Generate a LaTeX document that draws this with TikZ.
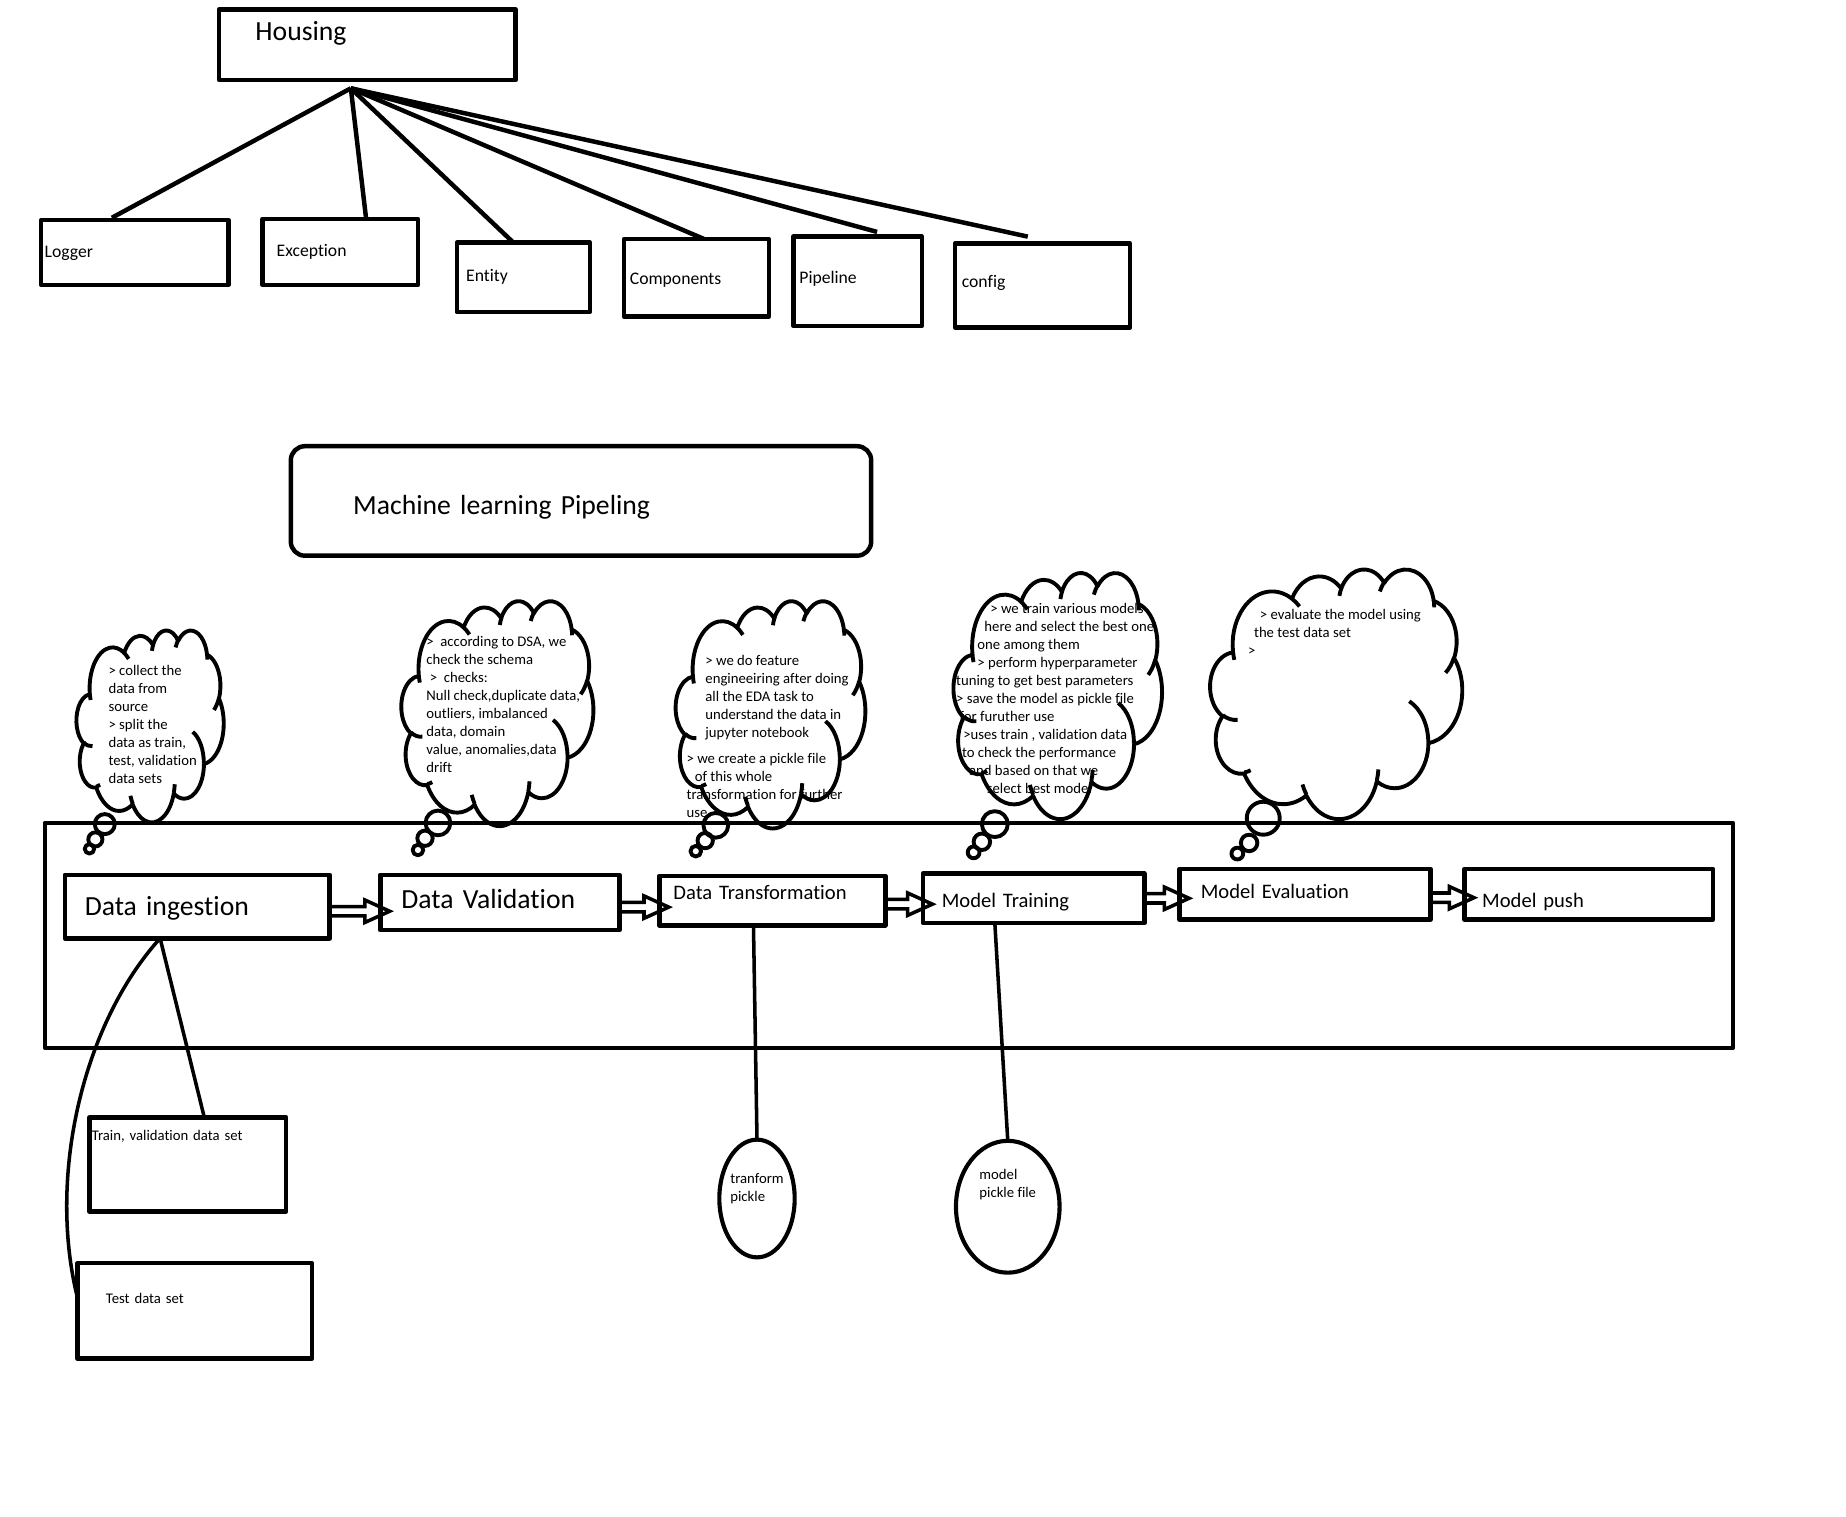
\documentclass[tikz,border=0pt]{standalone}
\usepackage{fontspec}
\setmainfont{Carlito}[Ligatures=NoCommon]
\usetikzlibrary{calc,shapes.geometric}
\newcommand\BigFont{\fontsize{23.5}{28}\selectfont}
\newcommand\MidFont{\fontsize{17.5}{21}\selectfont}
\newcommand\SmallFont{\fontsize{15}{18}\selectfont}
\newcommand\TinyFont{\fontsize{12.5}{15.3}\selectfont}
% thought cloud outline, laid out in a 43.2 x 43.2 box
\newcommand\CloudShape[4]{% #1,#2 top left corner, #3 width, #4 height
  \pgfmathsetmacro\cloudX{#3/43.2}%
  \pgfmathsetmacro\cloudY{#4/43.2}%
  \begin{scope}[shift={(#1,#2)}, x=\cloudX pt, y=-\cloudY pt]
  \draw[cloudline] (3.9,14.37)
    arc[start angle=-187.75, delta angle=128.11, x radius=6.753, y radius=9.19]
    arc[start angle=-152.02, delta angle=106.57, x radius=5.333, y radius=7.267]
    arc[start angle=-153.48, delta angle=116.15, x radius=4.365, y radius=5.945]
    arc[start angle=-139.69, delta angle=129.48, x radius=4.857, y radius=6.595]
    arc[start angle=-74.77, delta angle=97.98, x radius=5.333, y radius=7.273]
    arc[start angle=-37.53, delta angle=119.39, x radius=6.775, y radius=9.22]
    arc[start angle=0.46, delta angle=121.52, x radius=5.785, y radius=7.867]
    arc[start angle=16.85, delta angle=129.40, x radius=6.752, y radius=9.215]
    arc[start angle=58.98, delta angle=91.22, x radius=7.72, y radius=10.543]
    arc[start angle=-276.69, delta angle=139.82, x radius=4.36, y radius=5.918]
    arc[start angle=-239.65, delta angle=143.76, x radius=4.345, y radius=5.945]
    -- cycle;
  % curls inside the puffs
  \draw[cloudline]
    (4.693,26.177) arc[start angle=85.54, delta angle=34.81, x radius=4.345, y radius=5.945]
    (6.928,34.899) arc[start angle=68.25, delta angle=15.06, x radius=4.36, y radius=5.918]
    (16.478,39.09) arc[start angle=146.25, delta angle=12.22, x radius=6.752, y radius=9.215]
    (28.827,34.751) arc[start angle=4.74, delta angle=12.11, x radius=6.752, y radius=9.215]
    (34.129,22.954) arc[start angle=-64, delta angle=64.46, x radius=5.785, y radius=7.867]
    (41.798,15.354) arc[start angle=23.21, delta angle=26.45, x radius=5.333, y radius=7.273]
    (38.324,5.426) arc[start angle=-10.21, delta angle=11.03, x radius=4.857, y radius=6.595]
    (29.078,3.952) arc[start angle=-156.28, delta angle=16.59, x radius=4.857, y radius=6.595]
    (22.141,4.72) arc[start angle=-167.73, delta angle=14.25, x radius=4.365, y radius=5.945]
    (14,5.192) arc[start angle=-59.64, delta angle=13.91, x radius=6.753, y radius=9.19]
    (4.127,15.789) arc[start angle=-196.81, delta angle=9.06, x radius=6.753, y radius=9.19];
  \end{scope}
}

\begin{document}
\begin{tikzpicture}[x=1pt, y=-1pt, line join=round,
    box/.style={draw, line width=3.8pt, outer sep=0pt, anchor=north west, inner ysep=0pt, align=left},
    link/.style={line width=3.8pt},
    thinlink/.style={line width=3pt},
    flow/.style={line width=3pt, line join=miter},
    pkl/.style={draw, ellipse, line width=3.5pt, inner sep=0pt, outer sep=0pt, font=\TinyFont},
    cloudline/.style={line width=3.3pt},
    note/.style={anchor=west, align=left, inner sep=0pt, font=\TinyFont}]
\useasboundingbox (0,0) rectangle (1568,1288);

% package layout
\node[box, font=\BigFont, inner xsep=31pt, text width=190pt, text height=26pt, text depth=34pt] (housing) at (186,8) {Housing};
\coordinate (hub) at (298,75);
\node[box, font=\SmallFont, inner xsep=3pt, text width=153pt, text height=31.5pt, text depth=23.5pt] (logger) at (35,187) {Logger};
\node[box, font=\SmallFont, inner xsep=12pt, text width=108pt, text height=31.5pt, text depth=24.5pt] (exception) at (223,186) {Exception};
\node[box, font=\SmallFont, inner xsep=8pt, text width=97pt, text height=33.5pt, text depth=25.5pt] (entity) at (388,206) {Entity};
\node[box, font=\SmallFont, inner xsep=5pt, text width=113pt, text height=38.5pt, text depth=27.5pt] (components) at (530,203) {Components};
\node[box, font=\SmallFont, inner xsep=5pt, text width=99pt, text height=39.5pt, text depth=36.5pt] (pipeline) at (674,201) {Pipeline};
\node[box, font=\SmallFont, inner xsep=6pt, text width=137pt, text height=37.5pt, text depth=33.5pt] (config) at (811,207) {config};
\foreach \n/\dx/\dy in {logger/60/-2, exception/88/0, entity/48/0, components/68/0, pipeline/71/-4, config/62/-6}
  \draw[link] (hub) -- ($(\n.north west)+(\dx,\dy)$);

% pipeline title
\node[box, rounded corners=12pt, font=\BigFont, inner xsep=53pt, text width=387pt, text height=58pt, text depth=35pt] (mlpipe) at (247,379) {Machine learning Pipeling};

% stages
\draw[line width=3.5pt] (38,699) rectangle (1472,890);
\node[box, font=\BigFont, inner xsep=17pt, text width=191pt, text height=35pt, text depth=19pt] (ingest) at (55,743) {Data ingestion};
\node[box, font=\BigFont, inner xsep=18pt, text width=167pt, text height=29pt, text depth=18pt] (validate) at (323,743) {Data Validation};
\node[box, font=\MidFont, inner xsep=12pt, text width=168pt, text height=20pt, text depth=22pt] (transform) at (560,744) {Data Transformation};
\node[box, font=\MidFont, inner xsep=16pt, text width=156pt, text height=29pt, text depth=13pt] (train) at (784,742) {Model Training};
\node[box, font=\MidFont, inner xsep=18pt, text width=177pt, text height=25pt, text depth=18pt] (evaluate) at (1002,738) {Model Evaluation};
\node[box, font=\MidFont, inner xsep=15pt, text width=181pt, text height=33pt, text depth=10pt] (push) at (1244,738) {Model push};
% hollow block arrows between the stages
\foreach \a/\b/\s in {ingest/validate/4, validate/transform/4, transform/train/3, train/evaluate/0, evaluate/push/3} {
  \coordinate (from) at ($(\a.east)+(0,\s)$);
  \coordinate (tip) at ($(from -| \b.west)+(8,0)$);
  \draw[flow] ($(from)+(0,-4)$) -| ($(tip)+(-21,-9.5)$) -- (tip)
    -- ($(tip)+(-21,9.5)$) |- ($(from)+(0,4)$);
}

% outputs
\node[box, font=\TinyFont, inner xsep=2pt, text width=163pt, text height=20pt, text depth=60pt] (trainset) at (76,949) {Train, validation data set};
\node[box, font=\TinyFont, inner xsep=24pt, text width=151pt, text height=34pt, text depth=47pt] (testset) at (66,1073) {Test data set};
\node[pkl, minimum width=64pt, minimum height=100pt] (tpkl) at (643,1018)
  {\raisebox{29pt}{\begin{tabular}{@{}l@{}}tranform\\pickle\end{tabular}}};
\node[pkl, minimum width=88pt, minimum height=112pt] (mpkl) at (856,1025)
  {\raisebox{49pt}{\begin{tabular}{@{}l@{}}model\\pickle file\end{tabular}}};
\draw[thinlink] ($(ingest.south west)+(81,0)$) -- ($(trainset.north west)+(98,2)$);
\draw[thinlink] ($(ingest.south west)+(81,0)$) .. controls (70,870) and (40,1000) .. ($(testset.north west)+(0,30)$);
\draw[thinlink] ($(transform.south west)+(80,0)$) -- (tpkl.north);
\draw[thinlink] ($(train.south west)+(61,0)$) -- (mpkl.north);

% thought clouds
\node[note] (ingestnote) at (92,615) {> collect the\\data from\\source\\> split the\\data as train,\\test, validation\\data sets};
\node[note] (validnote) at (362,598) {>~ according to DSA, we\\check the schema\\\hspace*{3pt}>~ checks:\\Null check,duplicate data,\\outliers, imbalanced\\data, domain\\value, anomalies,data\\drift};
\node[note] (transnote) at (599,592.5) {> we do feature\\engineeiring after doing\\all the EDA task to\\understand the data in\\jupyter notebook};
\node[note] (transpkl) at (583,667) {> we create a pickle file\\\hspace*{7pt}of this whole\\transformation for further\\use};
\node[note] (trainnote) at (812,593) {\hspace*{29pt}> we train various models\\\hspace*{24pt}here and select the best one\\\hspace*{18pt}one among them\\\hspace*{18pt}> perform hyperparameter\\tuning to get best parameters\\> save the model as pickle file\\\hspace*{3pt}for furuther use\\\hspace*{6pt}>uses train , validation data\\\hspace*{5pt}to check the performance\\\hspace*{11pt}and based on that we\\\hspace*{26pt}select best model};
\node[note] (evalnote) at (1060,537) {\hspace*{10pt}> evaluate the model using\\\hspace*{5pt}the test data set\\>};
\CloudShape{65}{535}{125}{163}
\CloudShape{341}{510}{163}{191}
\CloudShape{574}{510}{161}{193}
\CloudShape{810}{486}{177}{209}
\CloudShape{1028}{483}{214}{212}
\foreach \bx/\by/\br in {89/700/8.5, 81/713/6, 76/721/4,
    372/699/10.5, 361/712/6.5, 355/722/4.5,
    608/701/10.5, 599/714/6.5, 591/723/4.5,
    845/700/11, 834/715/7, 827/724/5,
    1073/695/14, 1061/716/7, 1051/725/5}
  \draw[cloudline] (\bx,\by) circle[radius=\br];
\end{tikzpicture}
\end{document}
